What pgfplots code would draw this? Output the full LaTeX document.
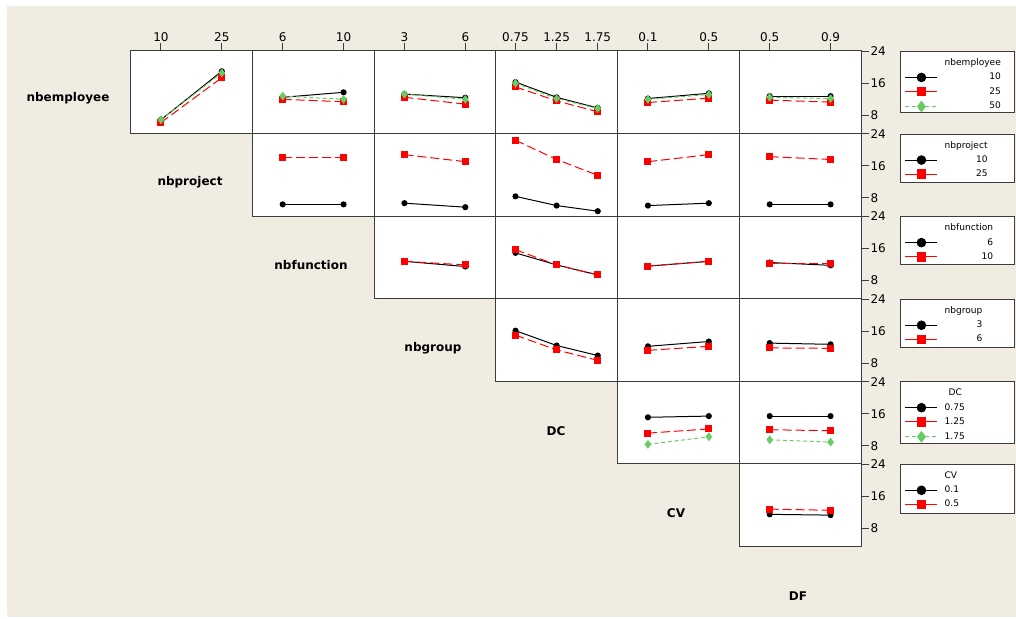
\documentclass[border=0pt]{standalone}
\usepackage{pgfplots}
\pgfplotsset{compat=1.18}
\usepackage{fontspec}
\setmainfont{DejaVu Sans}
\definecolor{bg}{RGB}{240,236,226}
\definecolor{mygreen}{RGB}{102,204,102}
\definecolor{frame}{RGB}{60,60,60}
\pgfplotsset{
  cell/.style={
    scale only axis, width=91.3125pt, height=61.95pt, anchor=north west,
    ymin=3.5, ymax=24.1,
    axis background/.style={fill=white},
    axis line style={frame, line width=0.75pt},
    xtick=\empty, ytick=\empty,
    clip=false,
    tick align=outside, major tick length=6pt,
    every tick/.style={frame, line width=0.75pt},
    tick label style={font=\fontsize{9}{10}\selectfont, inner sep=1pt},
    /pgf/number format/assume math mode=true,
    legend image code/.code={\draw[mark repeat=2,mark phase=2,#1] plot coordinates {(0pt,0pt) (12pt,0pt) (24pt,0pt)};},
    legend style={draw=none, fill=none, inner sep=0pt, outer sep=0pt,
      at={(axis description cs:1.3609,0.904)}, anchor=north west,
      font=\fontsize{6.8}{8}\selectfont, row sep=4.1pt, column sep=5pt,
      nodes={inner sep=0pt}},
  },
  two/.style={xmin=0.5, xmax=2.5},
  three/.style={xmin=0.52, xmax=3.48},
  top/.style={xtick pos=right, xticklabel pos=right},
  rightcol/.style={ytick={8,16,24}, ytick pos=right, yticklabel pos=right},
  blk/.style={black, line width=0.75pt, mark=*, mark size=1.9pt, mark options={solid}},
  rd/.style={red, line width=0.75pt, dash pattern=on 6.75pt off 3pt, mark=square*, mark size=2.25pt, mark options={solid}},
  grn/.style={mygreen, line width=0.75pt, dash pattern=on 3pt off 2pt, mark=diamond*, mark size=2.7pt, mark options={solid}},
  lblk/.style={black, line width=0.75pt, mark=*, mark size=3.2pt, mark options={solid}},
  lrd/.style={red, line width=0.75pt, mark=square*, mark size=3.2pt, mark options={solid}},
  lgrn/.style={mygreen, line width=0.75pt, dash pattern=on 3pt off 2pt, mark=diamond*, mark size=3.8pt, mark options={solid}},
}
\begin{document}
\begin{tikzpicture}
\useasboundingbox (0pt,0pt) rectangle (762pt,-463.5pt);
\fill[white] (0pt,0pt) rectangle (762pt,-463.5pt);
\fill[bg] (5.25pt,-4.5pt) rectangle (762pt,-462.75pt);
% legend boxes
\filldraw[fill=white, draw=frame, line width=0.75pt] (675.5pt,-38.625pt) rectangle (761pt,-84.375pt);
\filldraw[fill=white, draw=frame, line width=0.75pt] (675.5pt,-100.575pt) rectangle (761pt,-136.575pt);
\filldraw[fill=white, draw=frame, line width=0.75pt] (675.5pt,-162.525pt) rectangle (761pt,-198.525pt);
\filldraw[fill=white, draw=frame, line width=0.75pt] (675.5pt,-224.475pt) rectangle (761pt,-260.475pt);
\filldraw[fill=white, draw=frame, line width=0.75pt] (675.5pt,-286.425pt) rectangle (761pt,-332.675pt);
\filldraw[fill=white, draw=frame, line width=0.75pt] (675.5pt,-348.375pt) rectangle (761pt,-384.875pt);
% diagonal labels
\begin{scope}[every node/.style={font=\bfseries\fontsize{9}{10}\selectfont}]
\node at (51pt,-73.5pt) {nbemployee};
\node at (142.5pt,-136.5pt) {nbproject};
\node at (233.25pt,-198.75pt) {nbfunction};
\node at (324.75pt,-261pt) {nbgroup};
\node at (417pt,-323.25pt) {DC};
\node at (507pt,-384.75pt) {CV};
\node at (598.5pt,-447pt) {DF};
\end{scope}

% ---------------- Row 1: nbemployee ----------------
\begin{axis}[cell, two, top, at={(97.875pt,-38.1pt)}, xtick={1,2}, xticklabels={10,25}]
\addplot[blk] coordinates {(1,6.9) (2,19.0)};
\addplot[rd] coordinates {(1,6.2) (2,17.4)};
\addplot[grn] coordinates {(1,6.9) (2,18.6)};
\end{axis}
\begin{axis}[cell, two, top, at={(189.1875pt,-38.1pt)}, xtick={1,2}, xticklabels={6,10}]
\addplot[blk] coordinates {(1,12.5) (2,13.75)};
\addplot[rd] coordinates {(1,12.0) (2,11.4)};
\addplot[grn] coordinates {(1,12.8) (2,12.0)};
\end{axis}
\begin{axis}[cell, two, top, at={(280.5pt,-38.1pt)}, xtick={1,2}, xticklabels={3,6}]
\addplot[blk] coordinates {(1,13.3) (2,12.4)};
\addplot[rd] coordinates {(1,12.5) (2,10.8)};
\addplot[grn] coordinates {(1,13.3) (2,12.0)};
\end{axis}
\begin{axis}[cell, three, top, at={(371.8125pt,-38.1pt)}, xtick={1,2,3}, xticklabels={0.75,1.25,1.75}]
\addplot[blk] coordinates {(1,16.3) (2,12.5) (3,9.85)};
\addplot[rd] coordinates {(1,15.1) (2,11.6) (3,8.9)};
\addplot[grn] coordinates {(1,16.0) (2,12.2) (3,9.7)};
\end{axis}
\begin{axis}[cell, two, top, at={(463.125pt,-38.1pt)}, xtick={1,2}, xticklabels={0.1,0.5}]
\addplot[blk] coordinates {(1,12.2) (2,13.5)};
\addplot[rd] coordinates {(1,11.2) (2,12.3)};
\addplot[grn] coordinates {(1,12.0) (2,13.2)};
\end{axis}
\begin{axis}[cell, two, top, rightcol, at={(554.4375pt,-38.1pt)}, xtick={1,2}, xticklabels={0.5,0.9}, legend cell align=right]
\addplot[blk, forget plot] coordinates {(1,12.8) (2,12.8)};
\addplot[rd, forget plot] coordinates {(1,11.8) (2,11.3)};
\addplot[grn, forget plot] coordinates {(1,12.5) (2,12.2)};
\addlegendimage{empty legend}\addlegendentry{nbemployee}
\addlegendimage{lblk}\addlegendentry{10}
\addlegendimage{lrd}\addlegendentry{25}
\addlegendimage{lgrn}\addlegendentry{50}
\end{axis}

% ---------------- Row 2: nbproject ----------------
\begin{axis}[cell, two, at={(189.1875pt,-100.05pt)}]
\addplot[blk] coordinates {(1,6.4) (2,6.4)};
\addplot[rd] coordinates {(1,18.0) (2,18.0)};
\end{axis}
\begin{axis}[cell, two, at={(280.5pt,-100.05pt)}]
\addplot[blk] coordinates {(1,6.7) (2,5.7)};
\addplot[rd] coordinates {(1,18.8) (2,17.05)};
\end{axis}
\begin{axis}[cell, three, at={(371.8125pt,-100.05pt)}]
\addplot[blk] coordinates {(1,8.4) (2,6.1) (3,4.7)};
\addplot[rd] coordinates {(1,22.4) (2,17.6) (3,13.65)};
\end{axis}
\begin{axis}[cell, two, at={(463.125pt,-100.05pt)}]
\addplot[blk] coordinates {(1,6.1) (2,6.7)};
\addplot[rd] coordinates {(1,17.05) (2,18.8)};
\end{axis}
\begin{axis}[cell, two, rightcol, at={(554.4375pt,-100.05pt)}, legend cell align=right]
\addplot[blk, forget plot] coordinates {(1,6.4) (2,6.4)};
\addplot[rd, forget plot] coordinates {(1,18.3) (2,17.6)};
\addlegendimage{empty legend}\addlegendentry{nbproject}
\addlegendimage{lblk}\addlegendentry{10}
\addlegendimage{lrd}\addlegendentry{25}
\end{axis}

% ---------------- Row 3: nbfunction ----------------
\begin{axis}[cell, two, at={(280.5pt,-162.0pt)}]
\addplot[blk] coordinates {(1,12.8) (2,11.5)};
\addplot[rd] coordinates {(1,12.8) (2,11.9)};
\end{axis}
\begin{axis}[cell, three, at={(371.8125pt,-162.0pt)}]
\addplot[blk] coordinates {(1,14.9) (2,11.9) (3,9.4)};
\addplot[rd] coordinates {(1,15.7) (2,11.9) (3,9.4)};
\end{axis}
\begin{axis}[cell, two, at={(463.125pt,-162.0pt)}]
\addplot[blk] coordinates {(1,11.6) (2,12.8)};
\addplot[rd] coordinates {(1,11.6) (2,12.8)};
\end{axis}
\begin{axis}[cell, two, rightcol, at={(554.4375pt,-162.0pt)}, legend cell align=right]
\addplot[blk, forget plot] coordinates {(1,12.5) (2,11.8)};
\addplot[rd, forget plot] coordinates {(1,12.2) (2,12.2)};
\addlegendimage{empty legend}\addlegendentry{nbfunction}
\addlegendimage{lblk}\addlegendentry{6}
\addlegendimage{lrd}\addlegendentry{10}
\end{axis}

% ---------------- Row 4: nbgroup ----------------
\begin{axis}[cell, three, at={(371.8125pt,-223.95pt)}]
\addplot[blk] coordinates {(1,16.1) (2,12.4) (3,9.9)};
\addplot[rd] coordinates {(1,15.0) (2,11.3) (3,8.7)};
\end{axis}
\begin{axis}[cell, two, at={(463.125pt,-223.95pt)}]
\addplot[blk] coordinates {(1,12.2) (2,13.4)};
\addplot[rd] coordinates {(1,11.2) (2,12.2)};
\end{axis}
\begin{axis}[cell, two, rightcol, at={(554.4375pt,-223.95pt)}, legend cell align=right]
\addplot[blk, forget plot] coordinates {(1,13.0) (2,12.7)};
\addplot[rd, forget plot] coordinates {(1,11.8) (2,11.7)};
\addlegendimage{empty legend}\addlegendentry{nbgroup}
\addlegendimage{lblk}\addlegendentry{3}
\addlegendimage{lrd}\addlegendentry{6}
\end{axis}

% ---------------- Row 5: DC ----------------
\begin{axis}[cell, two, at={(463.125pt,-285.9pt)}]
\addplot[blk] coordinates {(1,15.1) (2,15.4)};
\addplot[rd] coordinates {(1,11.15) (2,12.2)};
\addplot[grn] coordinates {(1,8.35) (2,10.25)};
\end{axis}
\begin{axis}[cell, two, rightcol, at={(554.4375pt,-285.9pt)}, legend cell align=left]
\addplot[blk, forget plot] coordinates {(1,15.4) (2,15.4)};
\addplot[rd, forget plot] coordinates {(1,12.0) (2,11.75)};
\addplot[grn, forget plot] coordinates {(1,9.5) (2,8.9)};
\addlegendimage{empty legend}\addlegendentry{\hspace{3pt}DC}
\addlegendimage{lblk}\addlegendentry{0.75}
\addlegendimage{lrd}\addlegendentry{1.25}
\addlegendimage{lgrn}\addlegendentry{1.75}
\end{axis}

% ---------------- Row 6: CV ----------------
\begin{axis}[cell, two, rightcol, at={(554.4375pt,-347.85pt)}, legend cell align=left]
\addplot[blk, forget plot] coordinates {(1,11.5) (2,11.3)};
\addplot[rd, forget plot] coordinates {(1,12.8) (2,12.5)};
\addlegendimage{empty legend}\addlegendentry{CV}
\addlegendimage{lblk}\addlegendentry{0.1}
\addlegendimage{lrd}\addlegendentry{0.5}
\end{axis}
\end{tikzpicture}
\end{document}
